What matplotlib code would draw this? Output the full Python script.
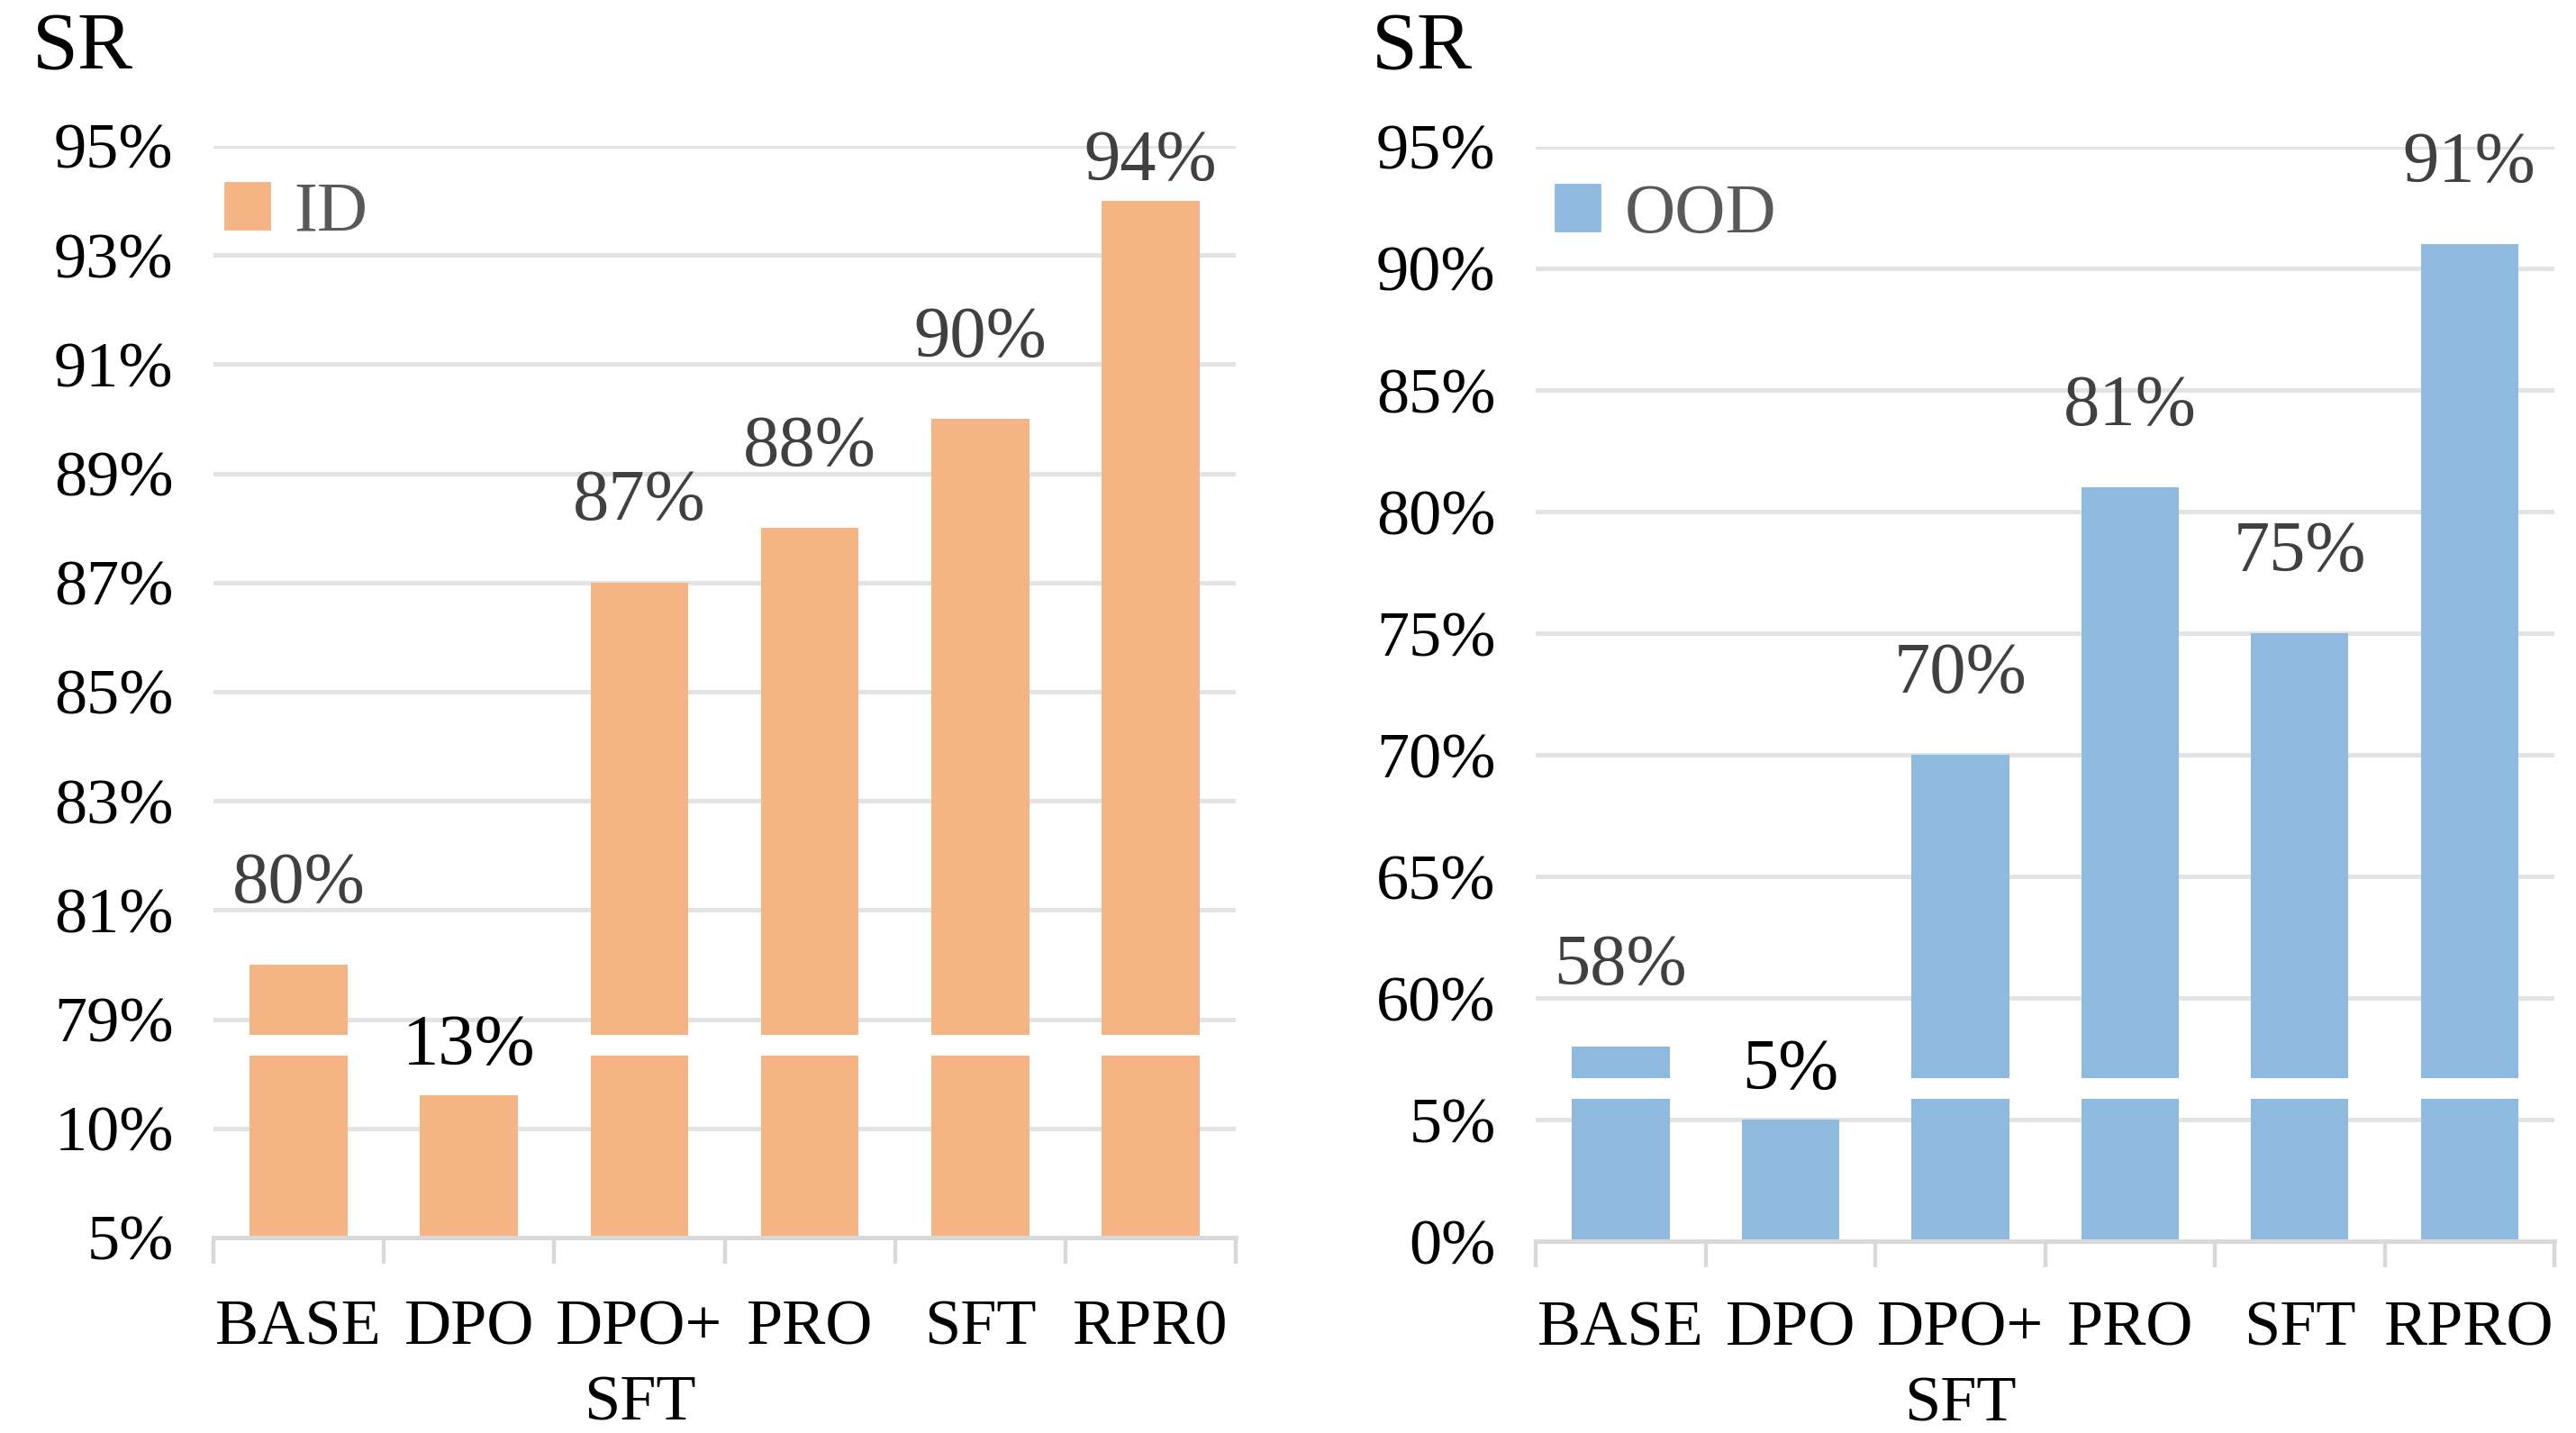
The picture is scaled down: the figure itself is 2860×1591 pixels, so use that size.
import matplotlib
matplotlib.use("Agg")
import matplotlib.pyplot as plt
from matplotlib.ticker import FixedLocator

plt.rcParams['font.family'] = ['Liberation Serif', 'DejaVu Serif']

# data
methods_id = ['BASE', 'DPO', 'DPO+\nSFT', 'PRO', 'SFT', 'RPR0']
methods_ood = ['BASE', 'DPO', 'DPO+\nSFT', 'PRO', 'SFT', 'RPRO']
id_sr = [80, 13, 87, 88, 90, 94]
ood_sr = [58, 5, 70, 81, 75, 91]
id_ticks = ['5%', '10%', '79%', '81%', '83%', '85%', '87%', '89%', '91%', '93%', '95%']
ood_ticks = ['0%', '5%', '60%', '65%', '70%', '75%', '80%', '85%', '90%', '95%']
id_label_colors = ['#404040', 'black', '#404040', '#404040', '#404040', '#404040']
ood_label_colors = ['#404040', 'black', '#404040', '#404040', '#404040', '#404040']

ORANGE = '#F4B483'
BLUE = '#8FBAE0'
GRID = '#e3e3e3'
FIG_H = 7.955


def to_idx(v, low_step, up_base, up_step, break_lo):
    # broken axis: lower segment below the break, upper segment from tick 2 on
    if v / low_step <= break_lo:
        return v / low_step
    return 2 + (v - up_base) / up_step


def panel(ax, names, vals, ticks, colors, low_step, up_base, up_step,
          gap, color, legend, leg_xy, top_margin, xpad):
    n_ticks = len(ticks)
    x = list(range(len(names)))
    lo, hi = gap
    pts_per_idx = ax.get_position().height * FIG_H * 72 / (n_ticks - 1)
    for xi, v, c in zip(x, vals, colors):
        top = to_idx(v, low_step, up_base, up_step, lo)
        if top <= lo:
            ax.bar(xi, top, width=0.575, color=color, zorder=2)
            ly = top + 19.5 / pts_per_idx
        else:
            ax.bar(xi, lo, width=0.575, color=color, zorder=2)
            ax.bar(xi, top - hi, bottom=hi, width=0.575, color=color, zorder=2)
            ly = top + 32 / pts_per_idx
        ly = min(ly, n_ticks - 1 - top_margin / pts_per_idx)
        ax.text(xi, ly, f'{v}%', ha='center', va='center', fontsize=29,
                color=c, clip_on=False)

    ax.set_xlim(-0.5, len(names) - 0.5)
    ax.set_ylim(0, n_ticks - 1)
    ax.set_yticks(range(n_ticks))
    ax.set_yticklabels(ticks, fontsize=26)
    ax.tick_params(axis='y', length=0, pad=16)
    ax.yaxis.grid(True, color=GRID, lw=1.8, zorder=0)
    ax.set_axisbelow(True)

    ax.set_xticks(x)
    ax.set_xticklabels(names, fontsize=26, va='top', linespacing=1.38)
    ax.tick_params(axis='x', which='major', length=0, pad=xpad)
    ax.xaxis.set_minor_locator(FixedLocator([i - 0.5 for i in range(len(names) + 1)]))
    ax.tick_params(axis='x', which='minor', length=10.5, width=1.6, color='#d9d9d9')

    for s in ['top', 'right', 'left']:
        ax.spines[s].set_visible(False)
    ax.spines['bottom'].set_color('#d9d9d9')
    ax.spines['bottom'].set_linewidth(1.8)
    ax.spines['bottom'].set_zorder(3)

    h = plt.Rectangle((0, 0), 1, 1, color=color)
    ax.legend([h], [legend], loc='center left', bbox_to_anchor=leg_xy,
              frameon=False, fontsize=28, handlelength=0.64, handleheight=0.64,
              handletextpad=0.35, borderpad=0, borderaxespad=0,
              labelcolor='#595959')


fig = plt.figure(figsize=(14.3, FIG_H), dpi=200)
ax1 = fig.add_axes([0.0829, 0.1364, 0.3968, 0.7618])
ax2 = fig.add_axes([0.5962, 0.1336, 0.3954, 0.7640])

panel(ax1, methods_id, id_sr, id_ticks, id_label_colors, 10, 79, 2,
      (1.67, 1.86), ORANGE, 'ID', (0.011, 0.938), 6.5, 24.5)
panel(ax2, methods_ood, ood_sr, ood_ticks, ood_label_colors, 5, 60, 5,
      (1.17, 1.34), BLUE, 'OOD', (0.019, 0.9375), 6.5, 23.5)

fig.text(0.0126, 0.965, 'SR', fontsize=33, va='center', ha='left')
fig.text(0.5325, 0.965, 'SR', fontsize=33, va='center', ha='left')

fig.savefig('out.png', dpi=200)
